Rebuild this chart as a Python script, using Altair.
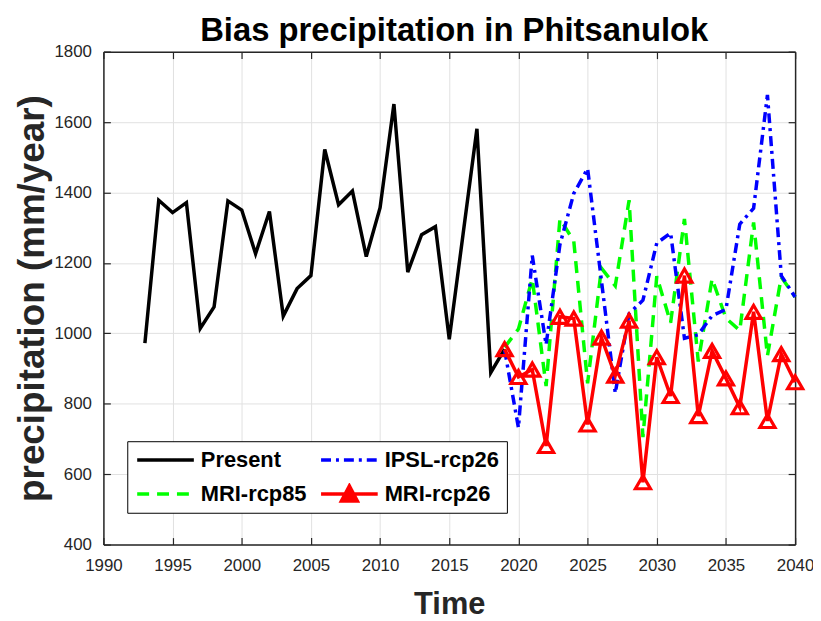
import altair as alt
import pandas as pd

# ---------------- data ----------------
present_years = list(range(1993, 2020))
present_vals = [972, 1378, 1343, 1371, 1014, 1075, 1376, 1350, 1226, 1346,
                1049, 1127, 1164, 1522, 1365, 1404, 1218, 1357, 1651, 1174,
                1280, 1303, 983, 1282, 1581, 888, 955]

future_years = list(range(2019, 2041))
ipsl_rcp26 = [953, 732, 1221, 968, 1252, 1397, 1468, 1150, 830, 1056, 1094,
              1256, 1285, 986, 996, 1050, 1068, 1310, 1355, 1677, 1164, 1103]
mri_rcp85 = [960, 1012, 1155, 850, 1325, 1262, 858, 1185, 1135, 1378, 705,
             1162, 1030, 1325, 920, 1155, 1043, 1008, 1315, 936, 1160, 1103]
mri_rcp26 = [955, 876, 897, 680, 1047, 1042, 741, 988, 880, 1036, 577, 932,
             822, 1164, 765, 950, 872, 790, 1061, 751, 941, 861]

# legend order (column-major in a 2-column legend)
series_names = ["Present", "MRI-rcp85", "IPSL-rcp26", "MRI-rcp26"]
series_colors = ["#000000", "#00FF00", "#0000FF", "#FF0000"]
series_dashes = [[1, 0], [12, 8], [10, 5, 3, 5], [1, 0]]

x_ticks = list(range(1990, 2041, 5))
y_ticks = list(range(400, 1801, 200))

# ---------------- tables ----------------
df_present = pd.DataFrame({"year": present_years, "value": present_vals})
df_ipsl = pd.DataFrame({"year": future_years, "value": ipsl_rcp26})
df_r85 = pd.DataFrame({"year": future_years, "value": mri_rcp85})
df_r26 = pd.DataFrame({"year": future_years, "value": mri_rcp26})
df_legend = pd.DataFrame({"series": series_names})

# legend symbols (unit-square paths): plain line, and line + triangle marker
line_path = "M-1,0H1"
tri_path = ("M-1,0H1M0,-0.28L0.28,0.25L-0.28,0.25Z"
            "M0,-0.16L0.16,0.17L-0.16,0.17Z"
            "M0,-0.05L0.06,0.1L-0.06,0.1Z")
legend_paths = [line_path, line_path, line_path, tri_path]

W, H = 696, 496
FONT = "Liberation Sans"
AX = "#262626"

xscale = alt.Scale(domain=[1990, 2040], nice=False, zero=False)
yscale = alt.Scale(domain=[400, 1800], nice=False, zero=False)

axis_x_main = alt.Axis(orient="bottom", values=x_ticks, format="d",
                       labelFont=FONT, labelFontSize=17, labelColor=AX,
                       labelPadding=13, labelFlush=False, ticks=False, tickSize=0,
                       domain=True, domainColor=AX, domainWidth=1.5,
                       grid=True, gridColor="#e1e1e1", gridWidth=1,
                       title="Time", titleFont=FONT, titleFontSize=31,
                       titleFontWeight="bold", titleColor=AX, titlePadding=16)
axis_y_main = alt.Axis(orient="left", values=y_ticks, format="d",
                       labelFont=FONT, labelFontSize=17, labelColor=AX,
                       labelPadding=12, labelFlush=False, ticks=False, tickSize=0,
                       domain=True, domainColor=AX, domainWidth=1.5,
                       grid=True, gridColor="#e1e1e1", gridWidth=1,
                       title="precipitation (mm/year)", titleFont=FONT,
                       titleFontSize=37, titleFontWeight="bold", titleColor=AX,
                       titlePadding=2)


def tick_axis(orient, offset, domain):
    return alt.Axis(orient=orient, offset=offset,
                    values=(x_ticks if orient in ("top", "bottom") else y_ticks),
                    labels=False, grid=False, title=None,
                    ticks=True, tickSize=7, tickColor=AX, tickWidth=1.2,
                    domain=domain, domainColor=AX, domainWidth=1.5)


present_layer = alt.Chart(df_present).mark_line(
    color="#000000", strokeWidth=3.5
).encode(
    x=alt.X("year:Q", scale=xscale, axis=axis_x_main),
    y=alt.Y("value:Q", scale=yscale, axis=axis_y_main),
)

r85_layer = alt.Chart(df_r85).mark_line(
    color="#00FF00", strokeWidth=3.5, strokeDash=[12, 8]
).encode(
    x=alt.X("year:Q", scale=xscale, axis=tick_axis("top", -H, False)),
    y=alt.Y("value:Q", scale=yscale, axis=tick_axis("right", -W, False)),
)

ipsl_layer = alt.Chart(df_ipsl).mark_line(
    color="#0000FF", strokeWidth=3.5, strokeDash=[10, 5, 3, 5]
).encode(
    x=alt.X("year:Q", scale=xscale, axis=tick_axis("bottom", -H, True)),
    y=alt.Y("value:Q", scale=yscale, axis=tick_axis("left", -W, True)),
)

r26_line = alt.Chart(df_r26).mark_line(
    color="#FF0000", strokeWidth=3.5
).encode(
    x=alt.X("year:Q", scale=xscale, axis=None),
    y=alt.Y("value:Q", scale=yscale, axis=None),
)

r26_points = alt.Chart(df_r26).mark_point(
    shape="triangle-up", filled=False, color="#FF0000",
    strokeWidth=3.2, size=230, opacity=1
).encode(
    x=alt.X("year:Q", scale=xscale, axis=None),
    y=alt.Y("value:Q", scale=yscale, axis=None),
)

leg = alt.Legend(orient="none", legendX=24, legendY=392, columns=2,
                 title=None, labelFont=FONT, labelFontSize=22,
                 labelFontWeight="bold", labelColor="black",
                 symbolSize=3249, symbolStrokeWidth=3.5, clipHeight=22,
                 rowPadding=12, columnPadding=12, padding=8, labelOffset=5,
                 strokeColor="black", fillColor="white", labelLimit=300)

legend_layer = alt.Chart(df_legend).transform_filter("false").mark_point(
    filled=False, strokeWidth=3.5, opacity=1
).encode(
    color=alt.Color("series:N", scale=alt.Scale(domain=series_names, range=series_colors), legend=leg),
    shape=alt.Shape("series:N", scale=alt.Scale(domain=series_names, range=legend_paths), legend=leg),
    strokeDash=alt.StrokeDash("series:N", scale=alt.Scale(domain=series_names, range=series_dashes), legend=leg),
)

chart = alt.layer(
    present_layer, r85_layer, ipsl_layer, r26_line, r26_points, legend_layer
).resolve_axis(
    x="independent", y="independent"
).properties(
    width=W, height=H,
    title=alt.TitleParams("Bias precipitation in Phitsanulok", font=FONT,
                          fontSize=33, fontWeight="bold", color="black",
                          anchor="middle", baseline="alphabetic", offset=5,
                          dy=36, dx=5),
    autosize=alt.AutoSizeParams(type="none"),
    padding={"left": 96, "top": 42, "right": 18, "bottom": 75},
).configure_view(stroke=None)

chart.save("out.html", embed_options={"renderer": "svg", "actions": False})
